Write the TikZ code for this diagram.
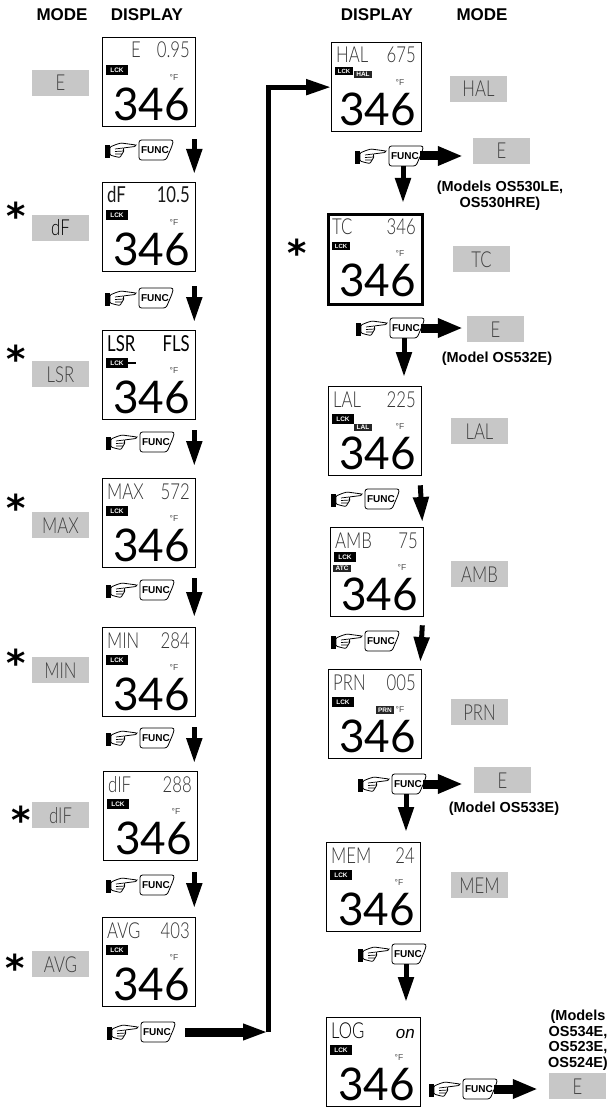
\documentclass[tikz,border=0pt]{standalone}
\usepackage{fontspec}
\setmainfont{Liberation Sans}
\newfontfamily\lcdfont[FakeStretch=.76]{Lato Light}
\newfontfamily\lcdstrongfont[FakeStretch=.76]{Lato}
\newfontfamily\lcdbig[FakeStretch=.98]{Lato}
\newfontfamily\starfont{DejaVu Sans}
\usetikzlibrary{arrows.meta, calc}

\begin{document}
\begin{tikzpicture}[
  x=1pt, y=-1pt,
  lcdbox/.style = {
    rectangle, draw=black, line width=1.3pt, fill=white, anchor=north west,
    minimum height=89pt, inner sep=0pt
  },
  lcdtop/.style = {
    inner sep=0pt, text height=16pt, text depth=0pt,
    font=\lcdfont\fontsize{22}{22}\selectfont
  },
  lcdstrong/.style = {
    inner sep=0pt, text height=16pt, text depth=0pt,
    font=\lcdstrongfont\fontsize{22}{22}\selectfont
  },
  lcktag/.style = {
    rectangle, fill=black, text=white, minimum width=22pt, minimum height=9.5pt,
    inner sep=0pt, font=\fontsize{6.5}{7}\selectfont\bfseries
  },
  smalllck/.style = {minimum width=18pt, minimum height=8pt, font=\fontsize{6}{7}\selectfont\bfseries},
  modetag/.style = {
    rectangle, fill=black!85, text=white, minimum width=18pt, minimum height=7.5pt,
    inner sep=0pt, font=\fontsize{6.5}{7}\selectfont\bfseries
  },
  modebox/.style = {
    rectangle, fill=black!22, minimum width=57pt, minimum height=26pt, inner sep=0pt,
    text=black!75, text height=16pt, text depth=0pt,
    font=\lcdfont\fontsize{22}{22}\selectfont
  },
  header/.style = {inner sep=0pt, font=\fontsize{17}{17}\selectfont\bfseries},
  modeltext/.style = {inner sep=0pt, align=center, font=\fontsize{14.5}{15.5}\selectfont\bfseries},
  starmark/.style = {inner sep=0pt, yshift=-5pt, font=\starfont\fontsize{37}{37}\selectfont\bfseries},
  flowarrow/.style = {-{Triangle[length=25pt, width=15pt]}, line width=5pt},
  sidearrow/.style = {-{Triangle[length=25pt, width=18pt]}, line width=9pt},
  pics/lcd/.style n args = {4}{code = {
    \node[lcdbox, minimum width=#1 pt] (-box) at (0,0) {};
    \node[lcdtop, text=#4, anchor=west] (-name) at (5,13) {#2};
    \node[lcdtop, text=#4, anchor=east] (-value) at (#1-5,13) {#3};
    \node[lcktag] (-lck) at (15,33) {LCK};
    \node[inner sep=0pt, text=black!70, font=\fontsize{8.5}{9}\selectfont] (-deg) at (#1-21,41) {°F};
    \node[inner sep=0pt, anchor=east, font=\lcdbig\fontsize{45}{45}\selectfont] (-big) at (#1-5,67) {346};
  }},
  pics/funckey/.style = {code = {
    % cuff and pointing hand
    \fill[black] (-51,-5) rectangle (-46,8);
    \draw[fill=white, line width=.8pt, rounded corners=1pt] (-46,-3) -- (-40,-5.5) -- (-35,-7) -- (-20,-5)
      -- (-21,-3.5) -- (-33,-2) -- (-32,1) -- (-34,4) -- (-36,7.5) -- (-41,6.5) -- (-46,5) -- cycle;
    \draw[line width=.7pt] (-41,-1) -- (-33,-2) (-41,1.5) -- (-32,1) (-41,4) -- (-34,4);
    % key with its cut corner
    \draw[fill=white, line width=.8pt, rounded corners=2.5pt] (-17,-10) -- (17.5,-10) -- (16,-4) -- (10,10) -- (-17,10) -- cycle;
    \node[inner sep=0pt, font=\fontsize{10}{10}\selectfont\bfseries] (-key) at (-1,0) {FUNC};
    \coordinate (-bot) at (-3,10);
    \coordinate (-rgt) at (14,0);
  }}
]

  \useasboundingbox (0,0) rectangle (609,1107);

  % Column headers
  \node[header] (h1) at (62,15) {MODE};
  \node[header] (h2) at (147,15) {DISPLAY};
  \node[header] (h3) at (377,15) {DISPLAY};
  \node[header] (h4) at (482,15) {MODE};

  % Left column displays
  \pic (pe)   at (102,37)  {lcd={93}{\hspace{24pt}E}{0.95}{black!80}};
  \pic[lcdtop/.append style={lcdstrong}] (pdf) at (102,182) {lcd={93}{dF}{10.5}{black!90}};
  \pic[lcdtop/.append style={lcdstrong}] (plsr) at (102,330) {lcd={93}{LSR}{FLS}{black}};
  \pic (pmax) at (102,478) {lcd={93}{MAX}{572}{black!80}};
  \pic (pmin) at (102,627) {lcd={93}{MIN}{284}{black!80}};
  \pic (pdif) at (103,771) {lcd={94}{dIF}{288}{black!80}};
  \pic (pavg) at (102,917) {lcd={93}{AVG}{403}{black!80}};
  \draw[line width=1.8pt] (plsr-lck.east) -- ++(8,0);

  % Right column displays
  \pic[lcktag/.append style={smalllck, xshift=-2pt, yshift=4pt}] (phal) at (331,42) {lcd={90}{HAL}{675}{black!80}};
  \pic[lcktag/.append style={smalllck, xshift=-1pt},
       lcdbox/.append style={line width=3pt, minimum height=90pt}] (ptc) at (327,213) {lcd={94}{TC}{346}{black!80}};
  \pic (plal) at (328,386)  {lcd={93}{LAL}{225}{black!80}};
  \pic[lcktag/.append style={yshift=3pt}] (pamb) at (330,527)  {lcd={93}{AMB}{75}{black!80}};
  \pic (pprn) at (328,669)  {lcd={93}{PRN}{005}{black!80}};
  \pic (pmem) at (326,842)  {lcd={94}{MEM}{24}{black!80}};
  \pic (plog) at (326,1017) {lcd={94}{LOG}{\normalfont\itshape\fontsize{17}{17}\selectfont on}{black}};

  % Small mode tags inside the displays
  \node[modetag] (thal) at (363,74.5)  {HAL};
  \node[modetag] (tlal) at (363,427.5) {LAL};
  \node[modetag] (tamb) at (342,568.5) {ATC};
  \node[modetag] (tprn) at (385,710)   {PRN};

  % Mode boxes, left
  \node[modebox] (me)   at (60.5,83)  {E};
  \node[modebox, text=black] (mdf) at (60.5,228) {dF};
  \node[modebox] (mlsr) at (60.5,374) {LSR};
  \node[modebox] (mmax) at (60.5,525) {MAX};
  \node[modebox] (mmin) at (60.5,670) {MIN};
  \node[modebox] (mdif) at (60.5,815) {dIF};
  \node[modebox] (mavg) at (60.5,964) {AVG};

  % Mode boxes, right
  \node[modebox] (mhal) at (478.5,89)  {HAL};
  \node[modebox] (mtc)  at (481.5,259) {TC};
  \node[modebox] (mlal) at (479.5,431) {LAL};
  \node[modebox] (mamb) at (479.5,574) {AMB};
  \node[modebox] (mprn) at (479.5,712) {PRN};
  \node[modebox] (mmem) at (479.5,885) {MEM};
  \node[modebox] (me1)  at (501.5,151) {E};
  \node[modebox] (me2)  at (495.5,329) {E};
  \node[modebox] (me3)  at (502.5,780) {E};
  \node[modebox] (me4)  at (577.5,1086) {E};

  % Asterisks
  \node[starmark] (s1) at (16,211) {*};
  \node[starmark] (s2) at (16,354) {*};
  \node[starmark] (s3) at (16,503) {*};
  \node[starmark] (s4) at (16,658) {*};
  \node[starmark] (s5) at (21,815) {*};
  \node[starmark] (s6) at (15,963) {*};
  \node[starmark] (s7) at (297,248) {*};

  % Model notes
  \node[modeltext] (n1) at (500,196) {(Models OS530LE,\\OS530HRE)};
  \node[modeltext] (n2) at (497,359) {(Model OS532E)};
  \node[modeltext] (n3) at (504,809) {(Model OS533E)};
  \node[modeltext] (n4) at (578,1040) {(Models\\OS534E,\\OS523E,\\OS524E)};

  % FUNC keys, left
  \pic (f1) at (156,150)  {funckey};
  \pic (f2) at (156,298)  {funckey};
  \pic (f3) at (157,442)  {funckey};
  \pic (f4) at (157,590)  {funckey};
  \pic (f5) at (157,738)  {funckey};
  \pic (f6) at (157,885)  {funckey};
  \pic (f7) at (158,1032) {funckey};

  % FUNC keys, right
  \pic (f8)  at (406,156)  {funckey};
  \pic (f9)  at (407,328)  {funckey};
  \pic (f10) at (382,499)  {funckey};
  \pic (f11) at (382,641)  {funckey};
  \pic (f12) at (409,784)  {funckey};
  \pic (f13) at (409,954)  {funckey};
  \pic (f14) at (480,1089) {funckey};

  % Arrows down the left column
  \draw[flowarrow] ([xshift=-2pt,yshift=-12pt]pe-box.south east) -- ([xshift=-2pt,yshift=8pt]pdf-box.north east);
  \draw[flowarrow] ([xshift=-2pt,yshift=-14pt]pdf-box.south east) -- ([xshift=-2pt,yshift=8pt]plsr-box.north east);
  \draw[flowarrow] ([xshift=-2pt,yshift=-10pt]plsr-box.south east) -- ([xshift=-2pt,yshift=12pt]pmax-box.north east);
  \draw[flowarrow] ([xshift=-2pt,yshift=-10pt]pmax-box.south east) -- ([xshift=-2pt,yshift=10pt]pmin-box.north east);
  \draw[flowarrow] ([xshift=-2pt,yshift=-10pt]pmin-box.south east) -- ([xshift=-4pt,yshift=8pt]pdif-box.north east);
  \draw[flowarrow] ([xshift=-4pt,yshift=-11pt]pdif-box.south east) -- ([xshift=-2pt,yshift=9pt]pavg-box.north east);

  % Long path from the left column to the right column
  \coordinate (bend1) at (268,1032);
  \draw[-{Triangle[length=25pt, width=15pt]}, line width=9pt] ([xshift=13pt]f7-rgt) -- (bend1);
  \draw[flowarrow] (bend1) -- (bend1 |- phal-box.west) -- (phal-box.west);

  % Arrows down the right column
  \draw[flowarrow] (f8-bot) -- ([yshift=10pt]f8-bot |- ptc-box.north);
  \draw[flowarrow] (f9-bot) -- ([yshift=9pt]f9-bot |- plal-box.north);
  \draw[flowarrow] ([xshift=-2pt,yshift=-9pt]plal-box.south east) -- ([xshift=-2pt,yshift=5pt]pamb-box.north east);
  \draw[flowarrow] ([xshift=-2pt,yshift=-8pt]pamb-box.south east) -- ([xshift=-2pt,yshift=7pt]pprn-box.north east);
  \draw[flowarrow] (f12-bot) -- ([yshift=10pt]f12-bot |- pmem-box.north);
  \draw[flowarrow] (f13-bot) -- ([yshift=15pt]f13-bot |- plog-box.north);

  % Side exits to the E mode
  \draw[sidearrow] (f8-rgt) -- ([xshift=-10pt]f8-rgt -| me1.west);
  \draw[sidearrow] (f9-rgt) -- ([xshift=-4pt]f9-rgt -| me2.west);
  \draw[sidearrow] (f12-rgt) -- ([xshift=-11pt]f12-rgt -| me3.west);
  \draw[sidearrow] (f14-rgt) -- ([xshift=-11pt]f14-rgt -| me4.west);

\end{tikzpicture}
\end{document}
